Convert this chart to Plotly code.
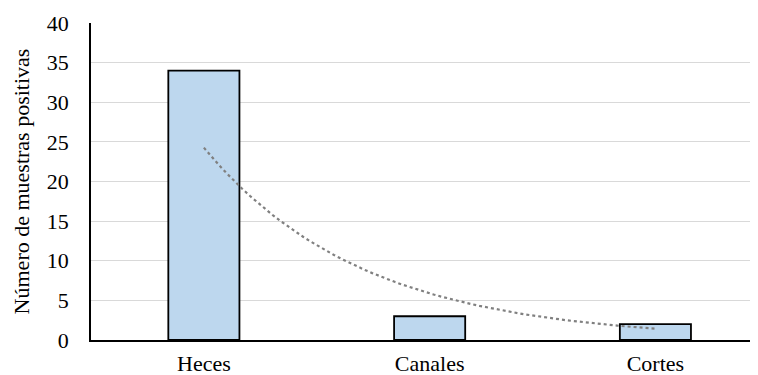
import numpy as np
import plotly.graph_objects as go

categories = ["Heces", "Canales", "Cortes"]
values = [34, 3, 2]
y_ticks = [0, 5, 10, 15, 20, 25, 30, 35, 40]

# Exponential trendline (least-squares fit on ln(y), as in a spreadsheet trendline)
xi = np.arange(1, len(values) + 1)
b, a = np.polyfit(xi, np.log(values), 1)
xs = np.linspace(0, len(values) - 1, 60)
trend = np.exp(a + b * (xs + 1))

FONT = "Liberation Serif"

fig = go.Figure()
fig.add_trace(go.Bar(
    x=list(range(len(categories))), y=values, width=0.315,
    marker=dict(color="#bdd7ee", line=dict(color="black", width=1.8)),
    showlegend=False,
))
fig.add_trace(go.Scatter(
    x=xs, y=trend, mode="lines",
    line=dict(color="#808080", width=2.2, dash="dot"),
    showlegend=False,
))
fig.update_layout(
    template="none",
    width=750, height=367,
    margin=dict(l=83, r=1, t=15, b=35),
    plot_bgcolor="white", paper_bgcolor="white",
    font=dict(family=FONT, color="black", size=22),
    xaxis=dict(
        range=[-0.5, 2.45], tickvals=list(range(len(categories))), ticktext=categories,
        showgrid=False, showline=True, linecolor="black", linewidth=1.5, automargin=False,
        ticks="", ticklabelstandoff=3, tickfont=dict(family=FONT, size=22), zeroline=False,
    ),
    yaxis=dict(
        range=[0, 40], tickvals=y_ticks, showgrid=True, gridcolor="#d9d9d9", gridwidth=1,
        showline=True, linecolor="black", linewidth=1.5, ticks="", zeroline=False,
        automargin=False, ticklabelstandoff=16, tickfont=dict(family=FONT, size=22),
        title=dict(text="Número de muestras positivas", font=dict(family=FONT, size=22), standoff=11),
    ),
)
fig.write_html("out.html")
